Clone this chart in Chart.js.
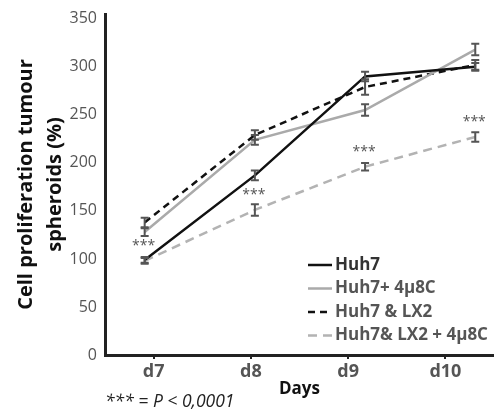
<!DOCTYPE html>
<html>
<head>
<meta charset="utf-8">
<script src="https://cdn.jsdelivr.net/npm/chart.js@4"></script>
<style>
  html, body { margin: 0; padding: 0; background: #fff; }
  #wrap { width: 494px; height: 413px; }
</style>
</head>
<body>
<div id="wrap"><canvas id="chartCanvas" width="494" height="413"></canvas></div>
<script>
const days = ['d7', 'd8', 'd9', 'd10'];
const dayPos = [0, 1, 2, 3];
const yTicks = [0, 50, 100, 150, 200, 250, 300, 350];

const huh7 = [99, 187, 290, 300];
const huh7Err = [3, 5, 5, 4];
const huh7Inh = [128, 224, 255, 318];
const huh7InhErr = [4, 5, 6, 6];
const huh7Lx2 = [138, 229, 279, 302];
const huh7Lx2Err = [5, 5, 8, 5];
const huh7Lx2Inh = [98, 151, 196, 227];
const huh7Lx2InhErr = [3, 6, 4, 5];

const stars = ['***', '***', '***', '***'];
const footnote = '*** = P < 0,0001';

const font = "'Open Sans', 'Noto Sans', sans-serif";

function pts(vals) {
  return vals.map((v, i) => ({ x: dayPos[i], y: v }));
}

// error bars on every point
const errorBars = {
  id: 'errorBars',
  afterDatasetsDraw(chart) {
    const ctx = chart.ctx;
    const y = chart.scales.y;
    ctx.save();
    ctx.strokeStyle = '#555';
    ctx.lineWidth = 2;
    chart.data.datasets.forEach((ds, di) => {
      const meta = chart.getDatasetMeta(di);
      meta.data.forEach((p, i) => {
        const v = ds.data[i].y;
        const e = ds.err[i];
        const top = y.getPixelForValue(v + e);
        const bot = y.getPixelForValue(v - e);
        ctx.beginPath();
        ctx.moveTo(p.x, top); ctx.lineTo(p.x, bot);
        ctx.moveTo(p.x - 4, top); ctx.lineTo(p.x + 4, top);
        ctx.moveTo(p.x - 4, bot); ctx.lineTo(p.x + 4, bot);
        ctx.stroke();
      });
    });
    ctx.restore();
  }
};

// *** marks, legend inside plot, footnote
const extras = {
  id: 'extras',
  afterDraw(chart) {
    const ctx = chart.ctx;
    ctx.save();

    // stars above the last series
    const meta = chart.getDatasetMeta(3);
    ctx.fillStyle = '#555';
    ctx.font = '14px ' + font;
    ctx.textAlign = 'center';
    ctx.textBaseline = 'middle';
    meta.data.forEach((p, i) => {
      ctx.fillText(stars[i], p.x - 1, p.y - 15);
    });

    // legend
    ctx.font = 'bold 17px ' + font;
    ctx.textAlign = 'left';
    const lx = 308, ly = 265, step = 23.5;
    chart.data.datasets.forEach((ds, i) => {
      const yy = ly + i * step;
      ctx.strokeStyle = ds.borderColor;
      ctx.lineWidth = 2.5;
      ctx.setLineDash(ds.borderDash || []);
      ctx.beginPath();
      ctx.moveTo(lx, yy); ctx.lineTo(lx + 24, yy);
      ctx.stroke();
      ctx.setLineDash([]);
      ctx.fillStyle = i === 0 ? '#333' : '#555';
      ctx.fillText(ds.label, lx + 27, yy);
    });

    // footnote
    ctx.fillStyle = '#222';
    ctx.font = 'italic 17.5px ' + font;
    ctx.textAlign = 'left';
    ctx.fillText(footnote, 105, 402);
    ctx.restore();
  }
};

const ctx = document.getElementById('chartCanvas').getContext('2d');
new Chart(ctx, {
  type: 'line',
  data: {
    labels: days,
    datasets: [
      { label: 'Huh7', data: pts(huh7), err: huh7Err, borderColor: '#111', borderWidth: 2.5 },
      { label: 'Huh7+ 4μ8C', data: pts(huh7Inh), err: huh7InhErr, borderColor: '#aaa', borderWidth: 2.5 },
      { label: 'Huh7 & LX2', data: pts(huh7Lx2), err: huh7Lx2Err, borderColor: '#111', borderWidth: 2.5, borderDash: [7, 5] },
      { label: 'Huh7& LX2 + 4μ8C', data: pts(huh7Lx2Inh), err: huh7Lx2InhErr, borderColor: '#b3b3b3', borderWidth: 2.5, borderDash: [9, 6] }
    ].map(d => Object.assign(d, { xAxisID: 'xv', pointRadius: 0, tension: 0, fill: false }))
  },
  options: {
    responsive: false,
    animation: false,
    layout: { padding: { top: 14, right: 0, bottom: 14, left: 12 } },
    plugins: { legend: { display: false }, tooltip: { enabled: false } },
    scales: {
      xv: {
        type: 'linear', position: 'bottom', display: false,
        min: -0.36, max: 3.17
      },
      x: {
        type: 'category', position: 'bottom', offset: true,
        border: { display: true, color: '#222', width: 3 },
        grid: { display: true, drawOnChartArea: false, drawTicks: true, tickLength: 4, color: '#222', lineWidth: 2 },
        ticks: { color: '#555', font: { family: font, size: 18, weight: 'bold' }, padding: 2 },
        title: { display: true, text: 'Days', color: '#111', font: { family: font, size: 17, weight: 'bold' }, padding: { top: 2, bottom: 0 } },
        afterFit: s => { s.height = 44; }
      },
      y: {
        min: 0, max: 355,
        afterBuildTicks: s => { s.ticks = yTicks.map(v => ({ value: v })); },
        border: { display: true, color: '#222', width: 3 },
        grid: { display: false },
        ticks: { color: '#555', font: { family: font, size: 16 }, padding: 0 },
        title: {
          display: true, text: ['Cell proliferation tumour', 'spheroids (%)'],
          color: '#111', font: { family: font, size: 20, weight: 'bold', lineHeight: 1.45 }, padding: 0
        },
        afterFit: s => { s.width = 93; }
      }
    }
  },
  plugins: [errorBars, extras]
});
</script>
</body>
</html>
